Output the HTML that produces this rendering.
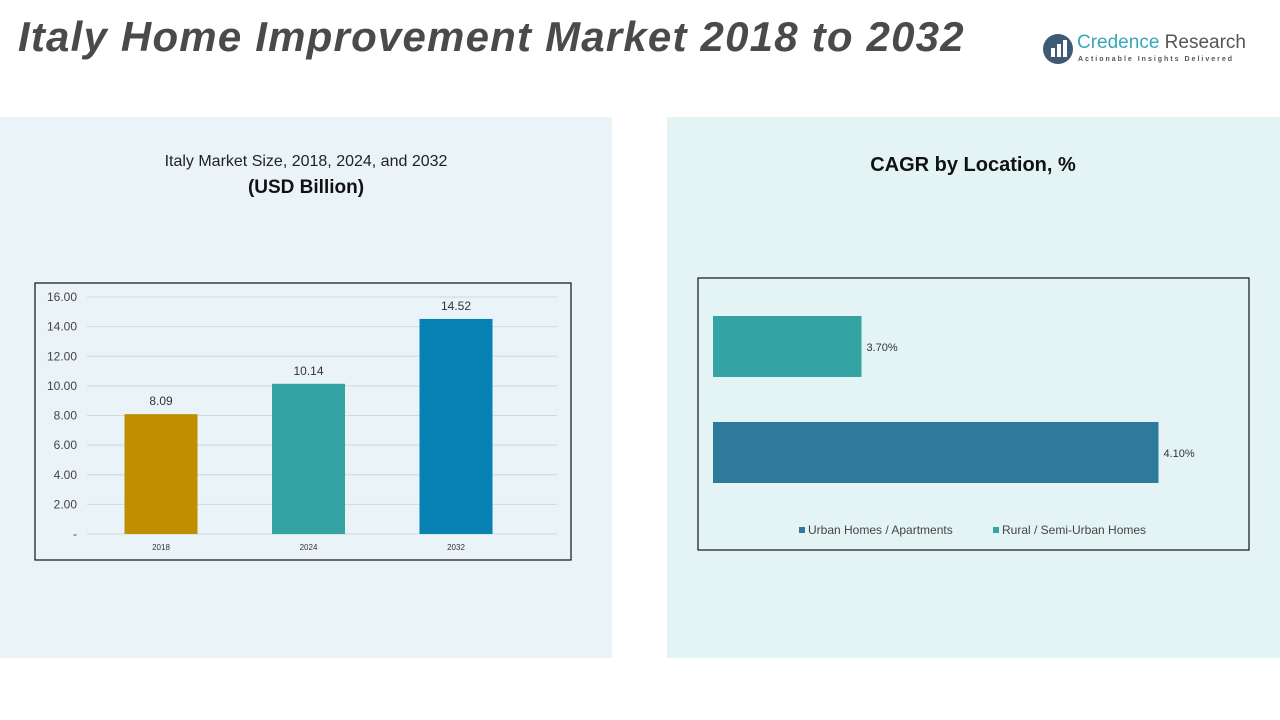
<!DOCTYPE html>
<html><head><meta charset="utf-8">
<style>
body{margin:0;width:1280px;height:720px;background:#fff;position:relative;overflow:hidden;font-family:"Liberation Sans",sans-serif}
.abs{position:absolute}
</style></head><body>
<div class="abs" style="left:18px;top:13px;font-size:42px;font-weight:bold;font-style:italic;color:#4a4a4a;letter-spacing:1.2px">Italy Home Improvement Market 2018 to 2032</div>
<div class="abs" style="left:1040px;top:30px;width:215px;height:40px">
  <svg width="34" height="34" style="position:absolute;left:2px;top:2px"><circle cx="16" cy="17" r="15" fill="#3e5a74"/><rect x="9" y="16" width="4" height="9" fill="#fff"/><rect x="15" y="12" width="4" height="13" fill="#fff"/><rect x="21" y="8" width="4" height="17" fill="#fff"/></svg>
  <div class="abs" style="left:37px;top:2px;font-size:19px;color:#3aa6b8;white-space:nowrap">Credence <span style="color:#555">Research</span></div>
  <div class="abs" style="left:38px;top:26px;font-size:7px;color:#555;letter-spacing:2px;white-space:nowrap;font-weight:bold">Actionable Insights Delivered</div>
</div>
<div class="abs" style="left:0;top:117px;width:612px;height:541px;background:#eaf3f8"></div>
<div class="abs" style="left:667px;top:117px;width:613px;height:541px;background:#e4f4f5"></div>
<div class="abs" style="left:0;width:612px;top:153px;text-align:center;font-size:16px;color:#222">Italy Market Size, 2018, 2024, and 2032</div>
<div class="abs" style="left:0;width:612px;top:177px;text-align:center;font-size:19px;font-weight:bold;color:#111">(USD Billion)</div>
<div class="abs" style="left:667px;width:612px;top:154px;text-align:center;font-size:20px;font-weight:bold;color:#111">CAGR by Location, %</div>
<svg class="abs" id="svg" style="left:0;top:0" width="1280" height="720"></svg>
<script>
const years=["2018","2024","2032"];
const sizes=[8.09,10.14,14.52];
const yTicks=[0,2,4,6,8,10,12,14,16];
const locations=["Rural / Semi-Urban Homes","Urban Homes / Apartments"];
const cagr=[3.70,4.10];
const legendOrder=["Urban Homes / Apartments","Rural / Semi-Urban Homes"];
const svg=document.getElementById('svg');
const NS='http://www.w3.org/2000/svg';
function mk(t,a,p){const e=document.createElementNS(NS,t);for(const k in a)e.setAttribute(k,a[k]);(p||svg).appendChild(e);return e;}
const box=mk('rect',{x:35,y:283,width:536,height:277,fill:'none',stroke:'#111','stroke-width':1.2});


const y=v=>534-v*(237/16);
const x=i=>161+i*147.5;
yTicks.forEach(t=>{
  const l=mk('line',{x1:87,x2:557,y1:y(t),y2:y(t),stroke:'#d2d8dc','stroke-width':1});
  
  
  const tx=mk('text',{x:77,y:y(t)+4,'text-anchor':'end','font-size':12,fill:'#444','font-family':'Liberation Sans'});
  tx.textContent=t===0?'-':t.toFixed(2);
  
  
});
const cols=['#c08f00','#33a3a3','#0780b2'];
sizes.forEach((v,i)=>{
  const b=mk('rect',{x:x(i)-36.5,y:y(v),width:73,height:y(0)-y(v),fill:cols[i]});
  
  
  const t=mk('text',{x:x(i),y:y(v)-9,'text-anchor':'middle','font-size':12,fill:'#333','font-family':'Liberation Sans'});
  t.textContent=v.toFixed(2);
  
  
  const c=mk('text',{x:x(i),y:550,'text-anchor':'middle','font-size':8,fill:'#333','font-family':'Liberation Sans'});
  c.textContent=years[i];
  
  
});
const box2=mk('rect',{x:698,y:278,width:551,height:272,fill:'none',stroke:'#111','stroke-width':1.2});


const xr=v=>713+(v-3.5)*742.5;
const yr=i=>316+i*106;
const rc=['#33a3a3','#2e7a9a'];
cagr.forEach((v,i)=>{
  const b=mk('rect',{x:713,y:yr(i),width:xr(v)-713,height:61,fill:rc[i]});
  
  
  const t=mk('text',{x:xr(v)+5,y:yr(i)+35,'font-size':11,fill:'#333','font-family':'Liberation Sans'});
  t.textContent=v.toFixed(2)+'%';
  
  
});
const lx=[799,993];
legendOrder.forEach((n,i)=>{
  const col=rc[locations.indexOf(n)];
  const m=mk('rect',{x:lx[i],y:527,width:6,height:6,fill:col});
  
  
  const t=mk('text',{x:lx[i]+9,y:534,'font-size':12,fill:'#444','font-family':'Liberation Sans'});
  t.textContent=n;
  
  
});
</script>
</body></html>
